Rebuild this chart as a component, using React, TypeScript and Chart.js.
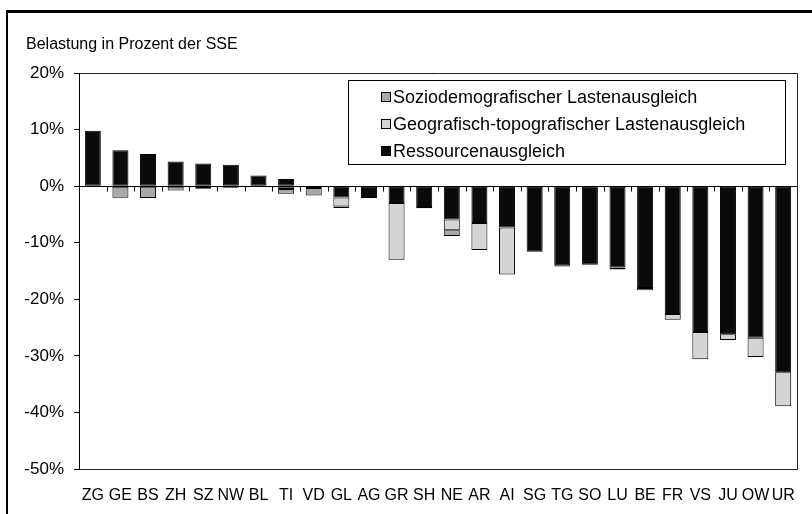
import React, { useEffect, useRef } from "react";
import { Chart, registerables } from "chart.js";

Chart.register(...registerables);

const cantons = ["ZG","GE","BS","ZH","SZ","NW","BL","TI","VD","GL","AG","GR","SH","NE","AR","AI","SG","TG","SO","LU","BE","FR","VS","JU","OW","UR"];
const ressourcen = [9.8, 6.35, 5.7, 4.35, 4.0, 3.8, 1.9, 1.25, -0.35, -2.0, -2.1, -3.0, -3.7, -5.9, -6.5, -7.3, -11.6, -14.0, -13.9, -14.4, -18.0, -22.6, -25.8, -26.2, -26.8, -32.9];
const geo = [null, null, null, null, null, null, null, -0.5, null, -1.6, null, -10.0, -0.2, -1.9, -4.8, -8.3, null, -0.2, null, null, -0.4, -1.0, -4.8, -1.0, -3.4, -6.0];
const sozio = [null, -2.05, -2.1, -0.75, -0.45, -0.3, null, -0.85, -1.3, -0.25, null, null, null, -1.0, null, null, null, null, null, -0.35, null, null, null, null, null, null];
const yTicks = [20, 10, 0, -10, -20, -30, -40, -50];

const titleText = "Belastung in Prozent der SSE";
const labelRes = "Ressourcenausgleich";
const labelGeo = "Geografisch-topografischer Lastenausgleich";
const labelSozio = "Soziodemografischer Lastenausgleich";

const FONT = "'Liberation Sans', Arial, sans-serif";

const decor = {
  id: "decor",
  beforeDraw(chart: any) {
    const ctx = chart.ctx;
    ctx.save();
    ctx.fillStyle = "#fff";
    ctx.fillRect(0, 0, chart.width, chart.height);
    ctx.fillStyle = "#000";
    ctx.fillRect(6, 10, chart.width - 6, 3);
    ctx.fillRect(6, 10, 2, chart.height - 10);
    ctx.font = "16px " + FONT;
    ctx.textBaseline = "middle";
    ctx.textAlign = "left";
    ctx.fillText(titleText, 26, 45);
    ctx.restore();
  },
  afterDatasetsDraw(chart: any) {
    const ctx = chart.ctx;
    const { left, right, top, bottom } = chart.chartArea;
    const y0 = Math.round(chart.scales.y.getPixelForValue(0)) + 0.5;
    ctx.save();
    ctx.strokeStyle = "#000";
    ctx.lineWidth = 1;
    ctx.beginPath();
    ctx.moveTo(left, y0);
    ctx.lineTo(right, y0);
    const n = cantons.length;
    const step = (right - left) / n;
    for (let i = 1; i <= n; i++) {
      const x = Math.round(left + step * i) + 0.5;
      ctx.moveTo(x, y0);
      ctx.lineTo(x, y0 + 5);
    }
    ctx.stroke();
    ctx.strokeStyle = "#222";
    ctx.beginPath();
    ctx.moveTo(left, Math.round(top) + 0.5);
    ctx.lineTo(Math.round(right) + 0.5, Math.round(top) + 0.5);
    ctx.lineTo(Math.round(right) + 0.5, Math.round(bottom) + 0.5);
    ctx.lineTo(left, Math.round(bottom) + 0.5);
    ctx.stroke();

    // legend
    const bx = 348, by = 80, bw = 437, bh = 84;
    ctx.fillStyle = "#fff";
    ctx.fillRect(bx, by, bw, bh);
    ctx.strokeStyle = "#000";
    ctx.strokeRect(bx + 0.5, by + 0.5, bw, bh);
    const items = [2, 1, 0];
    const rows = [97, 124, 151];
    ctx.font = "18px " + FONT;
    ctx.textBaseline = "middle";
    ctx.textAlign = "left";
    items.forEach((di, k) => {
      const ds = chart.data.datasets[di];
      const yy = rows[k];
      ctx.fillStyle = ds.backgroundColor;
      ctx.fillRect(381, yy - 5, 10, 10);
      ctx.strokeStyle = "#000";
      ctx.strokeRect(381.5, yy - 4.5, 9, 9);
      ctx.fillStyle = "#000";
      ctx.fillText(ds.label, 393, yy + 1);
    });
    ctx.restore();
  },
};

export default function App() {
  const ref = useRef<HTMLCanvasElement>(null);
  useEffect(() => {
    if (!ref.current) return;
    const common = { borderColor: "#000", borderWidth: 1, borderSkipped: false, barPercentage: 0.58, categoryPercentage: 1 };
    const chart = new Chart(ref.current, {
      type: "bar",
      data: {
        labels: cantons,
        datasets: [
          { label: labelRes, data: ressourcen, backgroundColor: "#0a0a0a", ...common },
          { label: labelGeo, data: geo, backgroundColor: "#d4d4d4", ...common },
          { label: labelSozio, data: sozio, backgroundColor: "#a8a8a8", ...common },
        ] as any,
      },
      options: {
        responsive: false,
        animation: false,
        devicePixelRatio: 1,
        layout: { padding: { left: 0, top: 73, right: 15, bottom: 0 } },
        plugins: { legend: { display: false }, title: { display: false }, tooltip: { enabled: false } },
        scales: {
          x: {
            stacked: true,
            grid: { display: false },
            border: { display: false },
            ticks: { color: "#000", font: { size: 16, family: FONT }, padding: 9, maxRotation: 0, autoSkip: false },
            afterFit: (s: any) => { s.height = 45; },
          },
          y: {
            stacked: true,
            min: -50,
            max: 20,
            afterBuildTicks: (s: any) => { s.ticks = yTicks.map((v) => ({ value: v })); },
            ticks: { color: "#000", font: { size: 17, family: FONT }, padding: 10, callback: (v: any) => v + "%" },
            grid: { drawOnChartArea: false, drawTicks: true, tickLength: 5, color: "#000" },
            border: { display: true, color: "#000" },
            afterFit: (s: any) => { s.width = 79; },
          },
        },
      } as any,
      plugins: [decor],
    });
    return () => chart.destroy();
  }, []);
  return (
    <div style={{ position: "fixed", left: 0, top: 0, width: 812, height: 514, background: "#fff" }}>
      <canvas ref={ref} width={812} height={514} style={{ display: "block" }} />
    </div>
  );
}
